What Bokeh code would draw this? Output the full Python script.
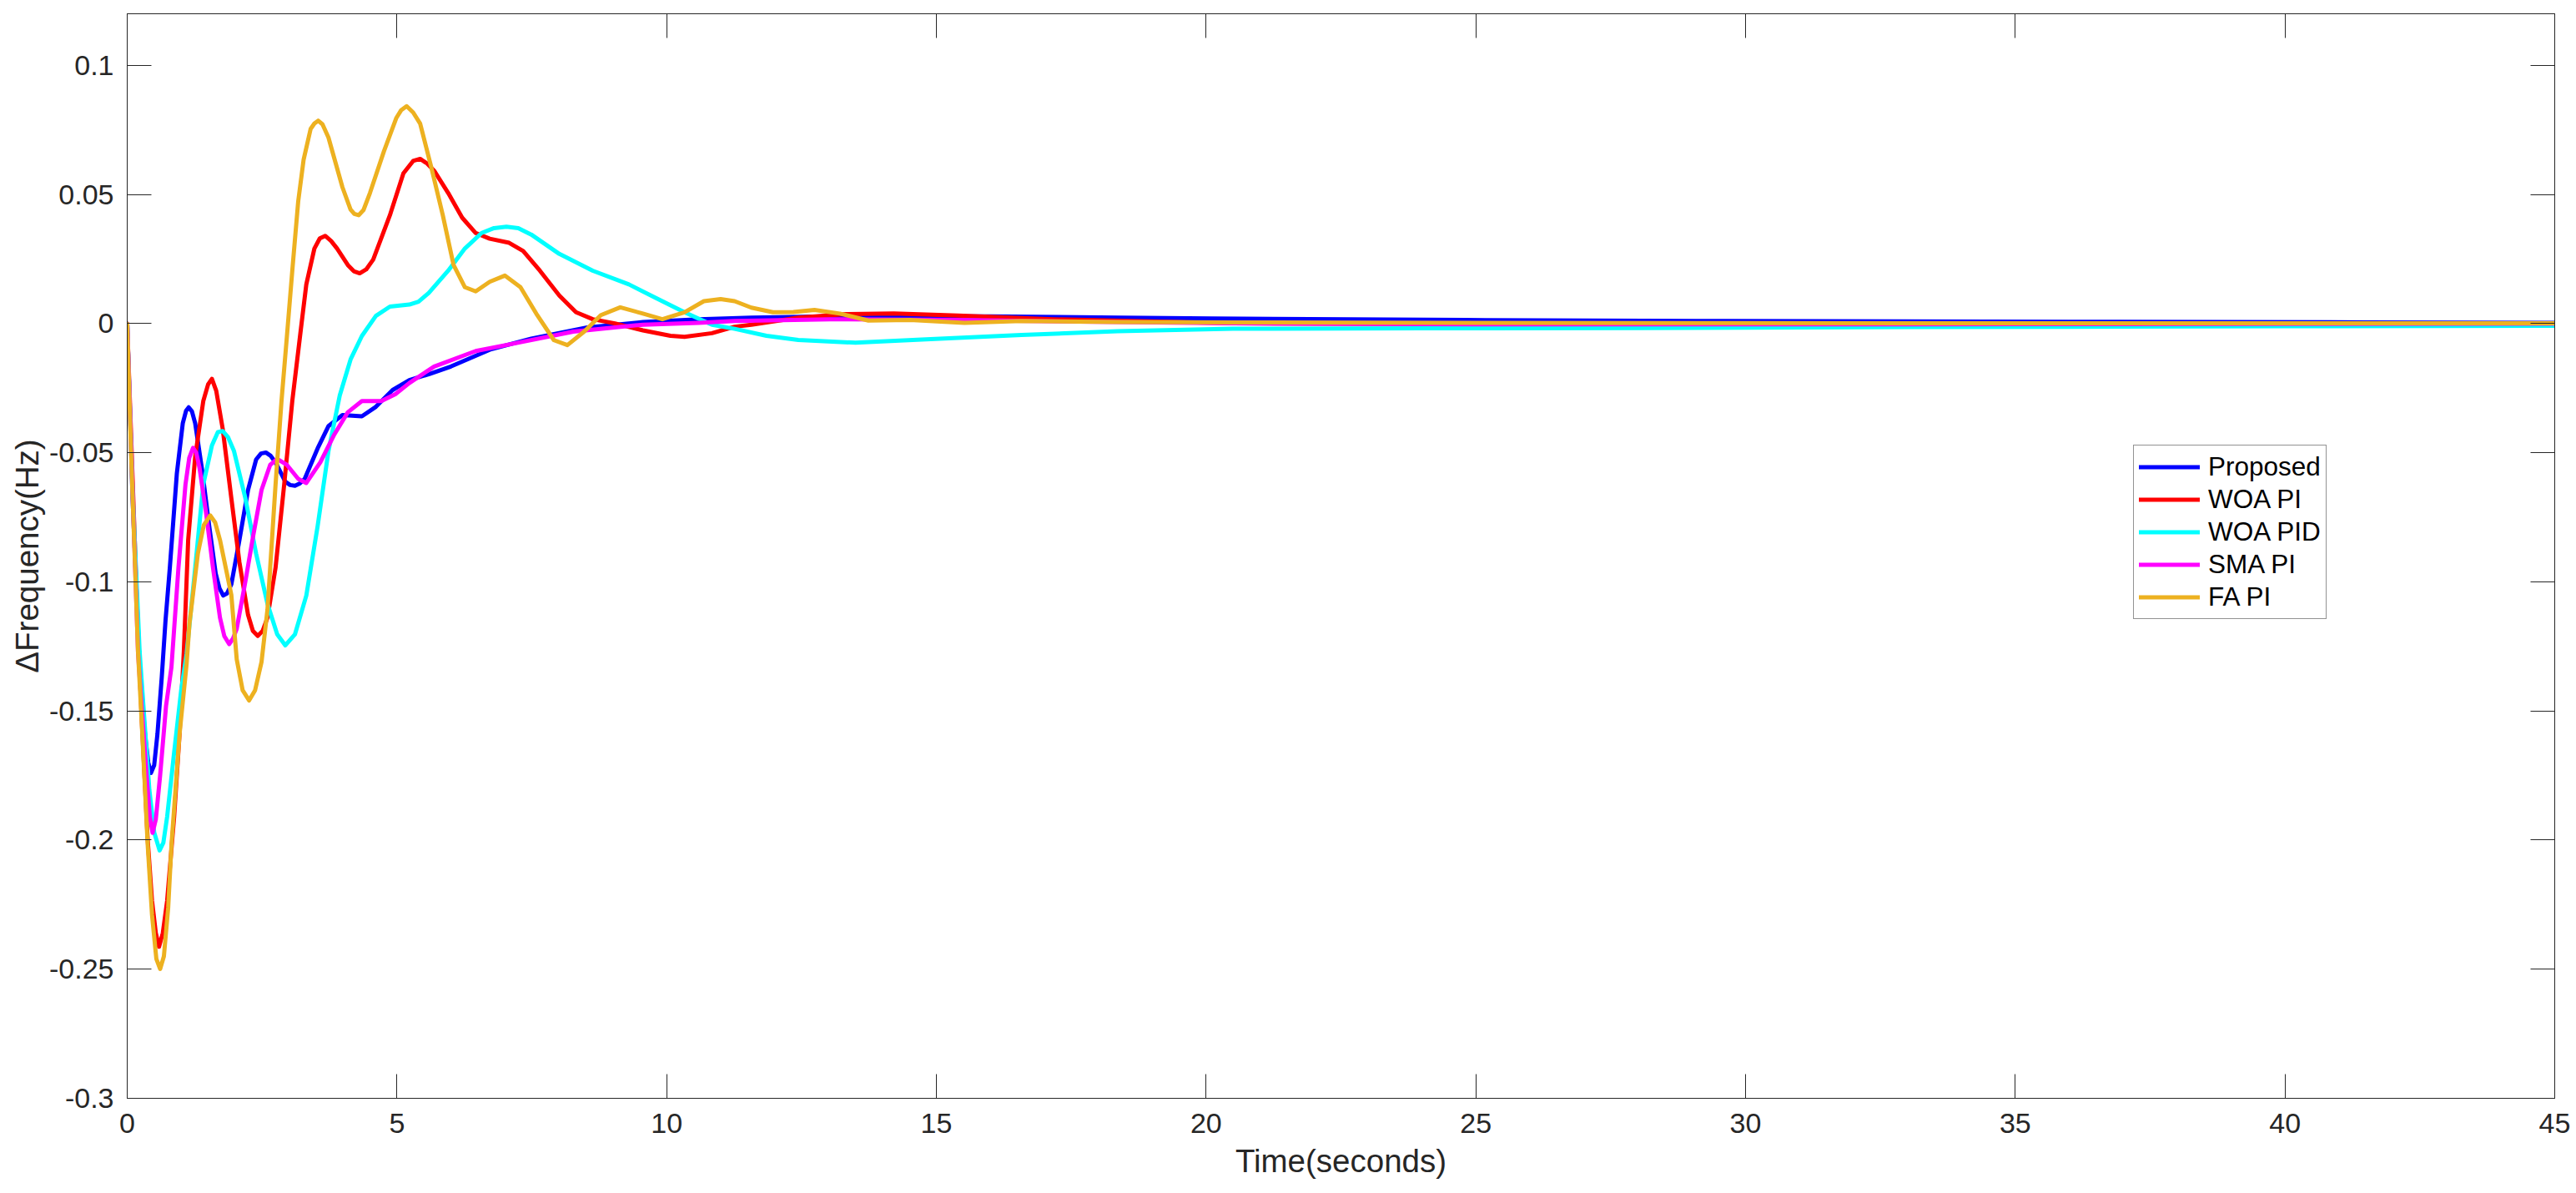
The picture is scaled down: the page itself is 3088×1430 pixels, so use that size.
from bokeh.plotting import figure
from bokeh.models import FixedTicker, Legend, LegendItem, LinearAxis, Range1d, CustomLabelingPolicy
from bokeh.embed import file_html
from bokeh.resources import INLINE

# ---------------- data ----------------
t_proposed = [0, 0.1, 0.23, 0.33, 0.39, 0.44, 0.50, 0.56, 0.64, 0.71, 0.79, 0.92, 1.03, 1.09,
              1.14, 1.20, 1.26, 1.39, 1.52, 1.64, 1.71, 1.78, 1.85, 1.93, 2.08, 2.24, 2.39,
              2.48, 2.57, 2.66, 2.75, 2.93, 3.02, 3.11, 3.20, 3.29, 3.53, 3.73, 3.99, 4.35,
              4.61, 4.92, 5.23, 5.6, 6.0, 6.72, 7.49, 8.53, 9.56, 10.59, 11.57, 13.0, 16.0,
              18.4, 20.1, 24.8, 29.6, 36.0, 41.5, 45]
v_proposed = [0, -0.068, -0.132, -0.159, -0.170, -0.174, -0.171, -0.159, -0.137, -0.115,
              -0.0945, -0.058, -0.0386, -0.0338, -0.0324, -0.0340, -0.0386, -0.0569, -0.0784,
              -0.0967, -0.1025, -0.1053, -0.1045, -0.101, -0.0838, -0.0644, -0.0526, -0.0503,
              -0.0499, -0.0512, -0.0537, -0.0612, -0.0625, -0.0628, -0.0619, -0.0601, -0.0483,
              -0.0397, -0.0354, -0.0359, -0.0322, -0.0257, -0.0219, -0.0195, -0.0166, -0.0101,
              -0.0058, -0.0015, 0.0006, 0.0017, 0.0023, 0.0028, 0.0028, 0.0023, 0.002, 0.0014,
              0.001, 0.0007, 0.0005, 0.0003]

t_woa_pi = [0, 0.1, 0.2, 0.28, 0.38, 0.46, 0.53, 0.59, 0.66, 0.74, 0.87, 0.97, 1.05, 1.13,
            1.26, 1.41, 1.50, 1.57, 1.65, 1.77, 1.93, 2.08, 2.24, 2.33, 2.42, 2.51, 2.60,
            2.75, 2.91, 3.06, 3.22, 3.32, 3.47, 3.57, 3.67, 3.78, 3.89, 4.09, 4.20, 4.31,
            4.43, 4.56, 4.87, 5.12, 5.3, 5.43, 5.56, 5.69, 5.95, 6.21, 6.46, 6.72, 7.08,
            7.34, 7.65, 8.01, 8.32, 8.63, 9.04, 9.56, 10.07, 10.33, 10.84, 11.26, 11.57,
            12.44, 13.33, 14.21, 15.4, 17.17, 20.5, 25, 30, 35, 40, 45]
v_woa_pi = [0, -0.06, -0.12, -0.158, -0.20, -0.2235, -0.236, -0.2413, -0.236, -0.2235,
            -0.191, -0.159, -0.1268, -0.0838, -0.0515, -0.030, -0.0235, -0.0214, -0.026,
            -0.0407, -0.0676, -0.0924, -0.1128, -0.119, -0.1209, -0.119, -0.1139, -0.0945,
            -0.0623, -0.030, -0.002, 0.0152, 0.0291, 0.033, 0.034, 0.032, 0.0291, 0.0227,
            0.0203, 0.0195, 0.021, 0.0248, 0.042, 0.0582, 0.063, 0.0638, 0.062, 0.0592,
            0.0506, 0.041, 0.0351, 0.0329, 0.0313, 0.0281, 0.0205, 0.0109, 0.0044, 0.0017,
            0.0001, -0.0026, -0.0047, -0.0051, -0.0037, -0.0012, -0.0004, 0.0023, 0.0037,
            0.0039, 0.0031, 0.0017, 0.0001, -0.0002, -0.0002, -0.0001, -0.0001, 0.0]

t_woa_pid = [0, 0.1, 0.23, 0.30, 0.41, 0.50, 0.60, 0.67, 0.74, 0.87, 1.0, 1.10, 1.26, 1.41,
             1.57, 1.68, 1.77, 1.87, 1.98, 2.19, 2.39, 2.60, 2.78, 2.93, 3.11, 3.32, 3.53,
             3.73, 3.94, 4.14, 4.35, 4.61, 4.87, 5.23, 5.40, 5.59, 5.95, 6.26, 6.57, 6.80,
             7.03, 7.25, 7.49, 8.01, 8.63, 9.30, 9.81, 10.33, 10.84, 11.26, 11.85, 12.44,
             13.5, 14.81, 16.58, 18.36, 20.5, 24, 28, 32, 36, 40, 45]
v_woa_pid = [0, -0.065, -0.127, -0.148, -0.1805, -0.197, -0.204, -0.201, -0.191, -0.166,
             -0.142, -0.128, -0.0945, -0.0623, -0.0472, -0.042, -0.0416, -0.044, -0.0494,
             -0.0676, -0.0891, -0.1085, -0.1203, -0.1246, -0.1203, -0.1053, -0.0784, -0.0494,
             -0.0278, -0.0139, -0.0048, 0.003, 0.0066, 0.0074, 0.0085, 0.0119, 0.0205, 0.0291,
             0.0351, 0.037, 0.0375, 0.037, 0.0345, 0.027, 0.0205, 0.0152, 0.0098, 0.0044,
             -0.0004, -0.002, -0.0047, -0.0063, -0.0074, -0.0061, -0.0044, -0.0029, -0.002,
             -0.0018, -0.0017, -0.0014, -0.0012, -0.001, -0.0008]

t_sma_pi = [0, 0.1, 0.2, 0.25, 0.36, 0.42, 0.47, 0.53, 0.61, 0.72, 0.82, 0.95, 1.08, 1.15,
            1.22, 1.28, 1.34, 1.46, 1.59, 1.72, 1.80, 1.89, 1.96, 2.03, 2.19, 2.34, 2.49,
            2.65, 2.78, 2.96, 3.17, 3.32, 3.58, 3.84, 4.09, 4.35, 4.71, 4.97, 5.23, 5.69,
            6.46, 7.24, 8.27, 9.56, 10.59, 11.26, 13.03, 15.4, 18.36, 20.5, 25, 30, 35, 40, 45]
v_sma_pi = [0, -0.065, -0.127, -0.143, -0.175, -0.191, -0.1972, -0.192, -0.175, -0.148,
            -0.133, -0.0945, -0.0623, -0.052, -0.0481, -0.050, -0.0558, -0.073, -0.0945,
            -0.1139, -0.121, -0.1241, -0.122, -0.1182, -0.0999, -0.0816, -0.0644, -0.0547,
            -0.0524, -0.0547, -0.0601, -0.0617, -0.0537, -0.0429, -0.0343, -0.030, -0.030,
            -0.0273, -0.023, -0.0166, -0.0106, -0.0074, -0.0031, -0.0004, 0.0003, 0.001,
            0.0017, 0.0014, 0.0006, 0.0001, -0.0003, -0.0003, -0.0002, -0.0001, 0.0]

t_fa_pi = [0, 0.07, 0.13, 0.20, 0.28, 0.38, 0.46, 0.54, 0.61, 0.68, 0.76, 0.82, 0.97, 1.10,
           1.155, 1.31, 1.42, 1.54, 1.63, 1.72, 1.93, 2.03, 2.14, 2.26, 2.37, 2.49, 2.60,
           2.75, 2.86, 2.96, 3.06, 3.17, 3.27, 3.40, 3.47, 3.54, 3.62, 3.73, 3.99, 4.14,
           4.21, 4.29, 4.38, 4.50, 4.76, 4.99, 5.08, 5.18, 5.30, 5.43, 5.64, 5.85, 6.05,
           6.26, 6.46, 6.72, 7.00, 7.29, 7.60, 7.91, 8.16, 8.47, 8.78, 9.14, 9.56, 9.92,
           10.33, 10.69, 11.0, 11.26, 11.57, 11.97, 12.35, 12.74, 13.21, 13.74, 14.51, 15.52,
           16.58, 18.4, 20.5, 25, 30, 35, 40, 45]
v_fa_pi = [0, -0.049, -0.085, -0.127, -0.159, -0.202, -0.229, -0.246, -0.2499, -0.245,
           -0.226, -0.202, -0.159, -0.132, -0.116, -0.089, -0.078, -0.0743, -0.077, -0.0838,
           -0.105, -0.130, -0.142, -0.1459, -0.142, -0.131, -0.1107, -0.0623, -0.030, -0.005,
           0.0205, 0.0474, 0.0635, 0.0754, 0.0775, 0.0786, 0.0772, 0.0721, 0.0528, 0.0442,
           0.0425, 0.042, 0.0440, 0.0506, 0.0668, 0.0797, 0.0827, 0.0842, 0.0818, 0.0775,
           0.0603, 0.042, 0.0227, 0.0141, 0.0125, 0.0162, 0.0186, 0.0141, 0.0033, -0.0064,
           -0.0083, -0.0031, 0.0033, 0.0063, 0.0039, 0.0017, 0.0044, 0.0087, 0.0095, 0.0087,
           0.0062, 0.0044, 0.0045, 0.0053, 0.0039, 0.0012, 0.0014, 0.0003, 0.001, 0.0006,
           0.0005, 0.0003, 0.0002, 0.0001, 0.0001, 0.0001]

series_names = ["Proposed", "WOA PI", "WOA PID", "SMA PI", "FA PI"]
series_colors = ["#0000FF", "#FF0000", "#00FFFF", "#FF00FF", "#EDB120"]

x_ticks = [0, 5, 10, 15, 20, 25, 30, 35, 40, 45]
y_ticks = [-0.3, -0.25, -0.2, -0.15, -0.1, -0.05, 0, 0.05, 0.1]
y_tick_labels = ["-0.3", "-0.25", "-0.2", "-0.15", "-0.1", "-0.05", "0", "0.05", "0.1"]

# ---------------- figure ----------------
FONT = "Liberation Sans"
AX = "#262626"

p = figure(frame_width=2910, frame_height=1300,
           x_range=Range1d(0, 45), y_range=Range1d(-0.3, 0.12),
           output_backend="svg", toolbar_location=None,
           min_border_left=152, min_border_top=16, min_border_right=24, min_border_bottom=60,
           background_fill_color="white", border_fill_color="white")
p.xgrid.grid_line_color = None
p.ygrid.grid_line_color = None
p.outline_line_color = AX
p.outline_line_width = 1

def style_axis(ax, ticks):
    ax.ticker = FixedTicker(ticks=ticks)
    ax.axis_line_color = AX
    ax.major_tick_line_color = AX
    ax.major_tick_in = 29
    ax.major_tick_out = 0
    ax.minor_tick_line_color = None

xa = p.xaxis[0]
ya = p.yaxis[0]
style_axis(xa, x_ticks)
style_axis(ya, y_ticks)
for ax in (xa, ya):
    ax.major_label_text_font = FONT
    ax.major_label_text_font_size = "34px"
    ax.major_label_text_color = AX
    ax.axis_label_text_font = FONT
    ax.axis_label_text_font_size = "38.5px"
    ax.axis_label_text_font_style = "normal"
    ax.axis_label_text_color = AX
xa.axis_label = "Time(seconds)"
ya.axis_label = "\u0394Frequency(Hz)"
xa.major_label_standoff = 18
xa.axis_label_standoff = 9
ya.major_label_standoff = 16
ya.axis_label_standoff = 2
ya.major_label_overrides = {tk: lb for tk, lb in zip(y_ticks, y_tick_labels)}

# box ticks on top and right (labels suppressed by a labeling policy)
hide_all = CustomLabelingPolicy(code="""
const all = [...indices];
for (const i of all) indices.unset(i);
return indices;
""")
top = LinearAxis(major_label_text_font_size="8px", major_label_standoff=0,
                 major_label_policy=hide_all)
right = LinearAxis(major_label_text_font_size="8px", major_label_standoff=0,
                   major_label_policy=hide_all)
style_axis(top, x_ticks)
style_axis(right, y_ticks)
p.add_layout(top, "above")
p.add_layout(right, "right")

series = [(t_proposed, v_proposed), (t_woa_pi, v_woa_pi), (t_woa_pid, v_woa_pid),
          (t_sma_pi, v_sma_pi), (t_fa_pi, v_fa_pi)]
items = []
for (tx, vy), name, col in zip(series, series_names, series_colors):
    r = p.line(tx, vy, line_color=col, line_width=5, line_join="round", line_cap="round")
    items.append(LegendItem(label=name, renderers=[r]))

legend = Legend(items=items, location=(2405, 574),
                label_text_font=FONT, label_text_font_size="31.5px", label_text_color="#000000",
                glyph_width=73, glyph_height=39, label_height=39, label_standoff=10,
                padding=6, spacing=0, margin=0,
                border_line_color=AX, border_line_width=1, background_fill_color="white",
                background_fill_alpha=1.0)
p.add_layout(legend, "center")

open("out.html", "w").write(file_html(p, INLINE))
